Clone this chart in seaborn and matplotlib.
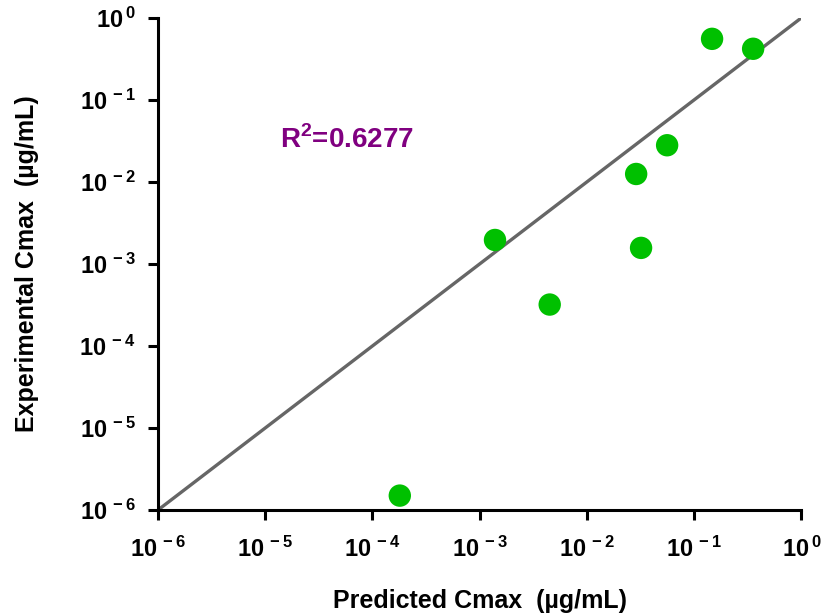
import matplotlib
matplotlib.use("Agg")
import matplotlib.pyplot as plt
import seaborn as sns
import numpy as np

# predicted vs experimental Cmax (ug/mL)
predicted = [1.8e-4, 1.39e-3, 4.5e-3, 0.0288, 0.032, 0.056, 0.147, 0.355]
experimental = [1.5e-6, 1.96e-3, 3.2e-4, 0.0125, 1.57e-3, 0.028, 0.555, 0.42]
identity = [1e-6, 1.0]
r2_text = r"R$^{\mathbf{2}}$=0.6277"
decades = [1e-6, 1e-5, 1e-4, 1e-3, 1e-2, 1e-1, 1e0]
exponents = [-6, -5, -4, -3, -2, -1, 0]

sns.set_theme(style="white", rc={"text.color": "black", "axes.labelcolor": "black",
                                 "xtick.color": "black", "ytick.color": "black"})
plt.rcParams["font.family"] = ["Liberation Sans", "DejaVu Sans"]
plt.rcParams["mathtext.fontset"] = "custom"
plt.rcParams["mathtext.rm"] = "Liberation Sans:bold"
plt.rcParams["mathtext.bf"] = "Liberation Sans:bold"

fig = plt.figure(figsize=(8.27, 6.16), dpi=100)
ax = fig.add_axes([0.191, 0.172, 0.778, 0.799])

ax.plot(identity, identity, color="#666666", lw=2.4, solid_capstyle="butt", zorder=1)
sns.scatterplot(x=predicted, y=experimental, ax=ax, s=260, color="#00c000",
                edgecolor="none", zorder=3, clip_on=False)

ax.set_xscale("log")
ax.set_yscale("log")
ax.set_xlim(1e-6, 1)
ax.set_ylim(1e-6, 1)
ax.minorticks_off()
labels = [r"$\mathbf{10^{\,%d}}$" % e for e in exponents]
ax.set_xticks(decades, labels)
ax.set_yticks(decades, labels)

for side in ["top", "right"]:
    ax.spines[side].set_visible(False)
for side in ["left", "bottom"]:
    ax.spines[side].set_linewidth(2.2)
    ax.spines[side].set_color("black")
ax.tick_params(axis="both", which="major", length=7, width=2.2, color="black",
               labelcolor="black", labelsize=17, bottom=True, left=True)
ax.tick_params(axis="x", pad=12)
ax.tick_params(axis="y", pad=9)

ax.set_xlabel("Predicted Cmax  (µg/mL)", fontsize=18, fontweight="bold")
ax.set_ylabel("Experimental Cmax  (µg/mL)", fontsize=18, fontweight="bold")
ax.xaxis.set_label_coords(0.5, -0.16)
ax.yaxis.set_label_coords(-0.185, 0.5)

ax.text(0.19, 0.752, r2_text, transform=ax.transAxes, fontsize=20,
        fontweight="bold", color="#800080", va="center", ha="left")

fig.savefig("out.png", dpi=100)
